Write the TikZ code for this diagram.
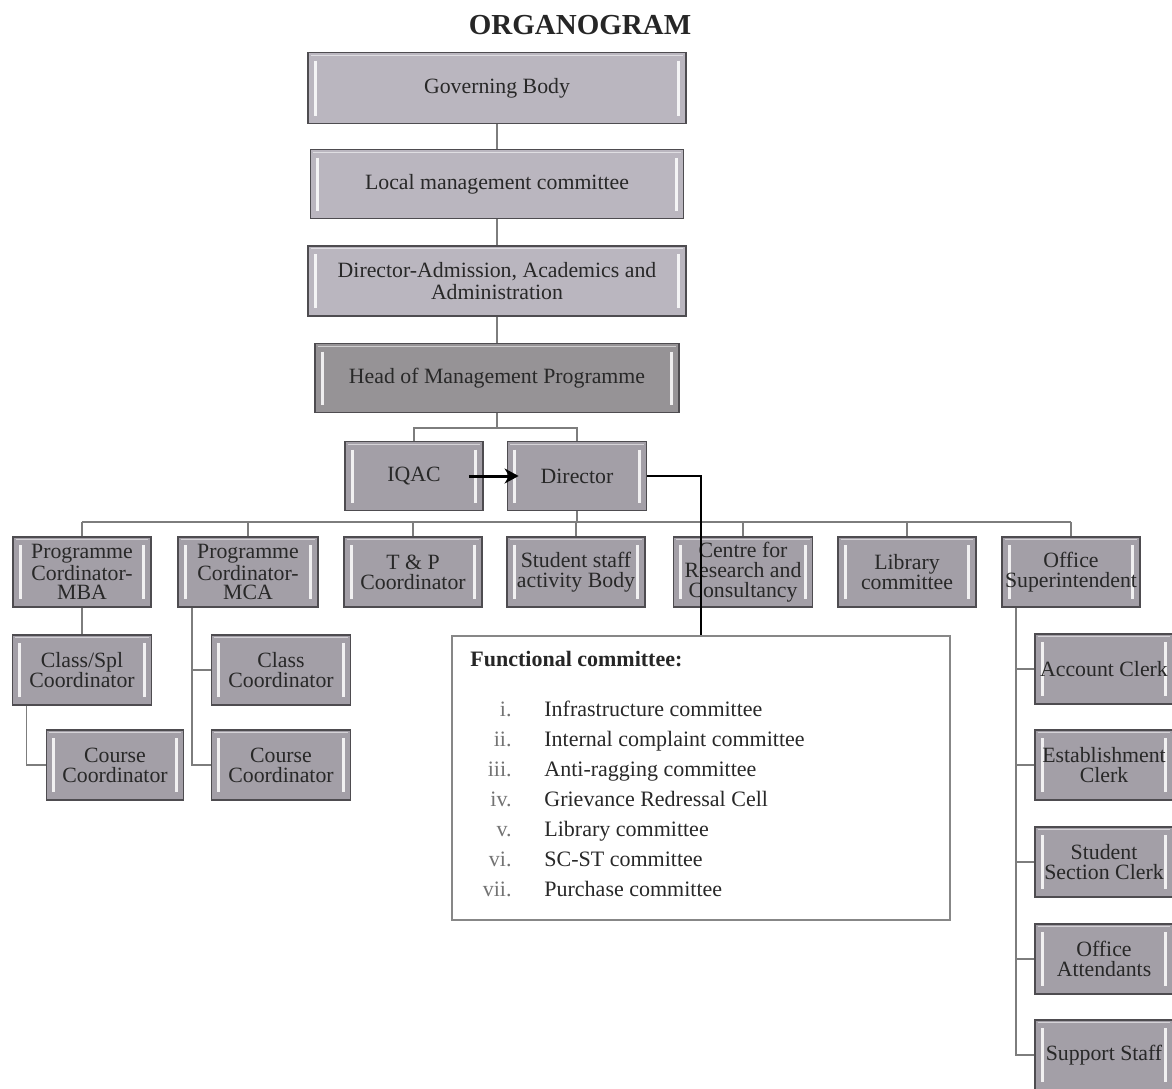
\documentclass[tikz,border=0pt]{standalone}
\usepackage{fontspec}
\setmainfont{Liberation Serif}
\usetikzlibrary{arrows.meta}
\definecolor{boxlight}{RGB}{186,182,191}
\definecolor{boxmid}{RGB}{163,159,167}
\definecolor{boxdark}{RGB}{150,147,150}
\definecolor{edgec}{RGB}{78,76,80}
\definecolor{linec}{RGB}{125,125,125}
\definecolor{txt}{RGB}{40,40,40}
\definecolor{fcedge}{RGB}{135,135,135}
\tikzset{
  sz/.style 2 args={minimum width=#1*0.5pt, minimum height=#2*0.5pt},
  orgbox/.style={draw=edgec, line width=0.9pt, fill=boxmid, inner sep=0pt,
    align=center, text=txt, font=\fontsize{10.9}{9.9}\selectfont,
    path picture={
      \draw[white, line width=1.6pt, opacity=0.85]
        ([xshift=3.6pt,yshift=-4pt]path picture bounding box.north west) --
        ([xshift=3.6pt,yshift=4pt]path picture bounding box.south west);
      \draw[white, line width=1.6pt, opacity=0.85]
        ([xshift=-3.6pt,yshift=-4pt]path picture bounding box.north east) --
        ([xshift=-3.6pt,yshift=4pt]path picture bounding box.south east);
      \draw[white, line width=0.6pt, opacity=0.55]
        ([shift={(1.3pt,-1.3pt)}]path picture bounding box.north west) --
        ([shift={(-1.3pt,-1.3pt)}]path picture bounding box.north east);
    }},
  lightbox/.style={orgbox, fill=boxlight},
  darkbox/.style={orgbox, fill=boxdark},
  conn/.style={draw=linec, line width=0.75pt},
  blackline/.style={draw=black, line width=0.75pt},
  bigarrow/.style={draw=black, line width=1.5pt, -{Stealth[length=7pt,width=7.5pt]}},
  fcbox/.style={draw=fcedge, line width=0.9pt, fill=white, inner sep=0pt},
  numtxt/.style={inner sep=0pt, text=black!55, font=\fontsize{11}{12}\selectfont},
  listtxt/.style={inner sep=0pt, text=txt, font=\fontsize{11}{12}\selectfont},
}
\begin{document}
\begin{tikzpicture}[x=0.5pt, y=-0.5pt]
\useasboundingbox (0,0) rectangle (1172,1088);

% title
\node[inner sep=0pt, text=black!85, font=\fontsize{14.5}{16}\selectfont\bfseries] (title) at (580,25) {ORGANOGRAM};

% top chain
\node[lightbox, sz={378}{71}] (gov) at (497,88) {Governing Body};
\node[lightbox, sz={373}{69}] (lmc) at (497,184) {Local management committee};
\node[lightbox, sz={378}{70}] (dadm) at (497,281) {Director-Admission, Academics and\\[1pt]Administration};
\node[darkbox, sz={364}{69}] (head) at (497,378) {Head of Management Programme};

\node[orgbox, sz={138}{69}] (iqac) at (414,476) {IQAC};
\node[orgbox, sz={139}{69}] (director) at (577,476) {Director};

% second row
\node[orgbox, sz={138}{70}] (mba) at (82,572) {Programme\\Cordinator-\\MBA};
\node[orgbox, sz={140}{70}] (mca) at (248,572) {Programme\\Cordinator-\\MCA};
\node[orgbox, sz={138}{70}] (tp) at (413,572) {T \& P\\Coordinator};
\node[orgbox, sz={138}{70}] (ssab) at (576,572) {Student staff\\activity Body};
\node[orgbox, sz={139}{70}] (crc) at (743,572) {Centre for\\Research and\\Consultancy};
\node[orgbox, sz={138}{70}] (lib) at (907,572) {Library\\committee};
\node[orgbox, sz={138}{70}] (os) at (1071,572) {Office\\Superintendent};

% left branches
\node[orgbox, sz={139}{70}] (clsspl) at (82,670) {Class/Spl\\Coordinator};
\node[orgbox, sz={137}{70}] (course1) at (115,765) {Course\\Coordinator};
\node[orgbox, sz={139}{70}] (class2) at (281,670) {Class\\Coordinator};
\node[orgbox, sz={139}{70}] (course2) at (281,765) {Course\\Coordinator};

% right column
\node[orgbox, sz={138}{70}] (acc) at (1104,669) {Account Clerk};
\node[orgbox, sz={138}{70}] (est) at (1104,765) {Establishment\\Clerk};
\node[orgbox, sz={138}{70}] (ssc) at (1104,862) {Student\\Section Clerk};
\node[orgbox, sz={138}{70}] (oa) at (1104,959) {Office\\Attendants};
\node[orgbox, sz={138}{70}] (sup) at (1104,1055) {Support Staff};

% functional committee box
\node[fcbox, sz={498}{284}] (fc) at (701,778) {};
\node[inner sep=0pt, anchor=base west, text=black!85, font=\fontsize{11}{12}\selectfont\bfseries] (fctitle) at (470,666) {Functional committee:};
\foreach \k/\r/\t in {0/i./Infrastructure committee,
                      1/ii./Internal complaint committee,
                      2/iii./Anti-ragging committee,
                      3/iv./Grievance Redressal Cell,
                      4/v./Library committee,
                      5/vi./SC-ST committee,
                      6/vii./Purchase committee}{
  \node[numtxt, anchor=base east] (num\k) at (512,716+30*\k) {\r};
  \node[listtxt, anchor=base west] (item\k) at (544,716+30*\k) {\t};
}

% connectors: top chain
\draw[conn] (gov) -- (lmc);
\draw[conn] (lmc) -- (dadm);
\draw[conn] (dadm) -- (head);
\coordinate (hj) at (497,428);
\draw[conn] (head.south) -- (hj);
\draw[conn] (iqac.north) |- (hj) -| (director.north);
\draw[bigarrow] ([xshift=-7.5pt]iqac.east) -- ([xshift=6pt]director.west);

% bus
\coordinate (busL) at (82,522);
\coordinate (busR) at (1071,522);
\draw[conn] (busL) -- (busR);
\draw[conn] (director.south) -- (director.south |- busL);
\foreach \n in {mba,mca,tp,ssab,crc,lib,os}{
  \draw[conn] (\n.north) -- (\n.north |- busL);
}

% left sub-branches
\draw[conn] (mba.south) -- (clsspl.north);
\draw[conn] ([xshift=7.5pt]clsspl.south west) |- (course1.west);
\draw[conn] ([xshift=7.5pt]mca.south west) |- (course2.west);
\draw[conn] ([xshift=7.5pt]mca.south west) |- (class2.west);

% right column
\foreach \n in {acc,est,ssc,oa,sup}{
  \draw[conn] ([xshift=7.5pt]os.south west) |- (\n.west);
}

% director to functional committee
\draw[blackline] (director.east) -| (fc.north);
\end{tikzpicture}
\end{document}
